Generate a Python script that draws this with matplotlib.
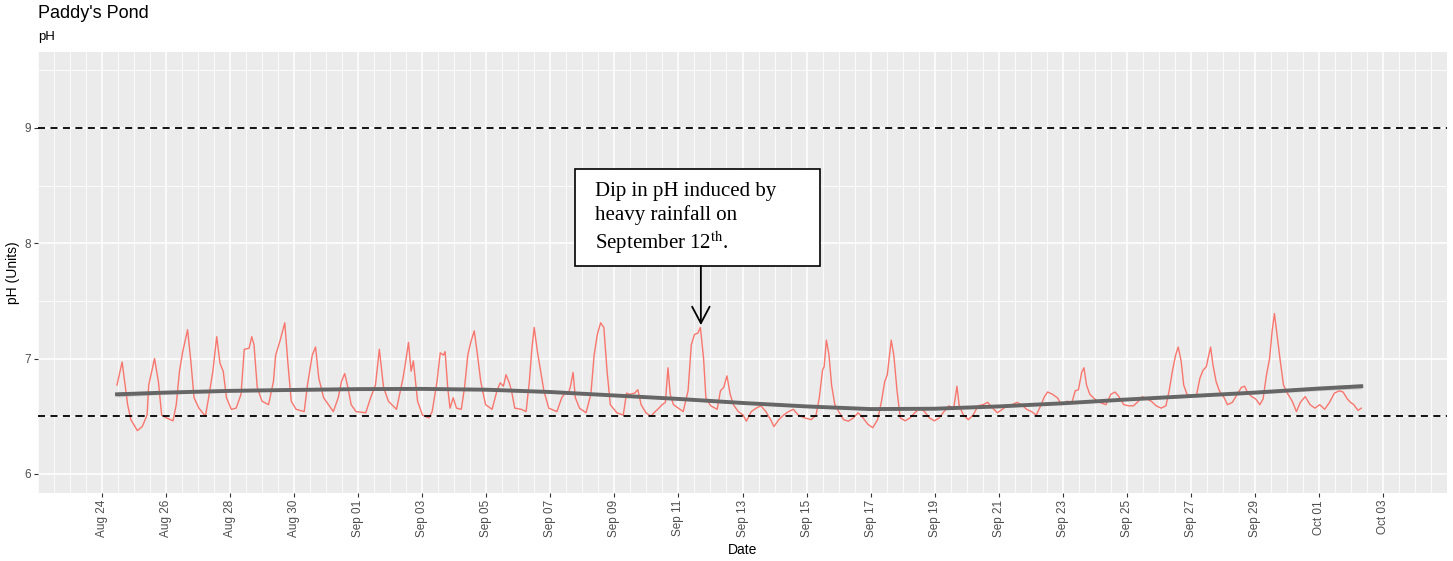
import numpy as np
import pandas as pd
import matplotlib
matplotlib.use('Agg')
import matplotlib.pyplot as plt
import matplotlib.dates as mdates
from matplotlib.patches import Rectangle

plt.rcParams['font.family'] = ['Liberation Sans', 'DejaVu Sans']
plt.rcParams['mathtext.fontset'] = 'stix'

# DATA (days since Aug 24 00:00, pH)
start = pd.Timestamp('2019-08-24')
red_days = [0.466, 0.627, 0.799, 0.900, 1.103, 1.255, 1.406, 1.457, 1.639, 1.760,
            1.862, 2.013, 2.216, 2.317, 2.418, 2.519, 2.671, 2.772, 2.873, 3.025,
            3.227, 3.328, 3.460, 3.581, 3.683, 3.784, 3.885, 4.036, 4.188, 4.340,
            4.441, 4.593, 4.674, 4.745, 4.846, 4.997, 5.200, 5.351, 5.422, 5.554,
            5.706, 5.807, 5.908, 6.060, 6.313, 6.414, 6.565, 6.667, 6.768, 6.920,
            7.223, 7.375, 7.476, 7.577, 7.678, 7.779, 7.931, 8.235, 8.386, 8.538,
            8.659, 8.791, 8.942, 9.195, 9.398, 9.469, 9.570, 9.651, 9.722, 9.853,
            10.005, 10.207, 10.308, 10.460, 10.561, 10.662, 10.713, 10.794, 10.865, 10.966,
            11.067, 11.219, 11.320, 11.421, 11.522, 11.623, 11.725, 11.826, 11.977, 12.180,
            12.332, 12.433, 12.534, 12.615, 12.716, 12.787, 12.888, 13.090, 13.242, 13.343,
            13.424, 13.495, 13.596, 13.697, 13.798, 13.950, 14.203, 14.355, 14.456, 14.557,
            14.628, 14.709, 14.780, 14.911, 15.113, 15.265, 15.366, 15.467, 15.569, 15.670,
            15.771, 15.872, 16.074, 16.277, 16.378, 16.479, 16.631, 16.732, 16.833, 16.985,
            17.137, 17.238, 17.389, 17.490, 17.592, 17.673, 17.743, 17.845, 17.996, 18.148,
            18.300, 18.401, 18.502, 18.603, 18.684, 18.785, 18.856, 19.008, 19.210, 19.311,
            19.413, 19.514, 19.615, 19.716, 19.868, 20.020, 20.122, 20.273, 20.425, 20.577,
            20.729, 20.880, 20.982, 21.133, 21.285, 21.437, 21.589, 21.740, 21.943, 22.145,
            22.297, 22.398, 22.499, 22.550, 22.620, 22.701, 22.782, 22.883, 23.005, 23.157,
            23.308, 23.460, 23.612, 23.764, 23.915, 24.067, 24.219, 24.340, 24.441, 24.522,
            24.644, 24.725, 24.826, 24.927, 25.079, 25.230, 25.382, 25.534, 25.686, 25.837,
            25.989, 26.141, 26.292, 26.444, 26.596, 26.697, 26.768, 26.899, 27.051, 27.203,
            27.354, 27.506, 27.658, 27.810, 27.961, 28.113, 28.265, 28.417, 28.568, 28.720,
            28.872, 29.024, 29.175, 29.327, 29.428, 29.529, 29.681, 29.833, 29.964, 30.136,
            30.288, 30.389, 30.491, 30.592, 30.663, 30.743, 30.845, 30.996, 31.148, 31.350,
            31.502, 31.634, 31.755, 31.907, 32.059, 32.210, 32.362, 32.484, 32.615, 32.767,
            32.918, 33.070, 33.222, 33.323, 33.424, 33.525, 33.606, 33.697, 33.778, 33.880,
            34.031, 34.183, 34.284, 34.385, 34.486, 34.537, 34.618, 34.689, 34.790, 34.891,
            35.043, 35.144, 35.296, 35.447, 35.579, 35.680, 35.781, 35.903, 36.024, 36.155,
            36.257, 36.358, 36.459, 36.540, 36.611, 36.692, 36.793, 36.894, 37.015, 37.167,
            37.299, 37.420, 37.572, 37.724, 37.875, 38.027, 38.179, 38.331, 38.482, 38.634,
            38.755, 38.887, 38.988, 39.089, 39.221, 39.322]
red_ph = [6.77, 6.97, 6.60, 6.47, 6.375, 6.41, 6.51, 6.77, 7.00, 6.80,
          6.51, 6.485, 6.46, 6.60, 6.89, 7.06, 7.25, 6.98, 6.66, 6.57,
          6.50, 6.66, 6.89, 7.19, 6.96, 6.89, 6.66, 6.56, 6.57, 6.69,
          7.08, 7.09, 7.19, 7.12, 6.75, 6.63, 6.60, 6.80, 7.03, 7.15,
          7.31, 6.95, 6.63, 6.56, 6.54, 6.77, 7.03, 7.10, 6.83, 6.66,
          6.54, 6.66, 6.80, 6.87, 6.75, 6.60, 6.54, 6.53, 6.66, 6.77,
          7.08, 6.75, 6.63, 6.56, 6.83, 6.95, 7.14, 6.89, 6.98, 6.63,
          6.51, 6.485, 6.54, 6.80, 7.05, 7.03, 7.06, 6.75, 6.57, 6.66,
          6.57, 6.56, 6.75, 7.03, 7.15, 7.24, 7.03, 6.80, 6.60, 6.56,
          6.72, 6.79, 6.76, 6.86, 6.79, 6.72, 6.57, 6.56, 6.54, 6.80,
          7.09, 7.27, 7.06, 6.89, 6.72, 6.57, 6.54, 6.66, 6.70, 6.69,
          6.76, 6.88, 6.66, 6.57, 6.53, 6.69, 7.03, 7.21, 7.31, 7.27,
          6.89, 6.60, 6.53, 6.51, 6.70, 6.69, 6.70, 6.73, 6.60, 6.53,
          6.50, 6.53, 6.57, 6.60, 6.62, 6.92, 6.69, 6.60, 6.57, 6.54,
          6.72, 7.12, 7.21, 7.22, 7.27, 7.00, 6.66, 6.59, 6.56, 6.72,
          6.75, 6.85, 6.69, 6.60, 6.54, 6.51, 6.457, 6.54, 6.57, 6.59,
          6.54, 6.47, 6.41, 6.47, 6.51, 6.54, 6.56, 6.51, 6.485, 6.47,
          6.51, 6.66, 6.90, 6.93, 7.16, 7.03, 6.77, 6.60, 6.54, 6.47,
          6.457, 6.485, 6.53, 6.485, 6.43, 6.40, 6.47, 6.63, 6.80, 6.86,
          7.16, 7.03, 6.72, 6.485, 6.46, 6.485, 6.53, 6.57, 6.54, 6.485,
          6.46, 6.485, 6.54, 6.59, 6.57, 6.76, 6.59, 6.51, 6.47, 6.51,
          6.59, 6.60, 6.62, 6.57, 6.53, 6.56, 6.59, 6.60, 6.62, 6.60,
          6.56, 6.54, 6.51, 6.60, 6.67, 6.71, 6.69, 6.66, 6.60, 6.63,
          6.62, 6.72, 6.73, 6.88, 6.92, 6.77, 6.69, 6.65, 6.62, 6.60,
          6.69, 6.71, 6.67, 6.60, 6.59, 6.59, 6.63, 6.67, 6.65, 6.63,
          6.59, 6.57, 6.59, 6.72, 6.89, 7.03, 7.10, 6.98, 6.77, 6.69,
          6.67, 6.69, 6.83, 6.90, 6.93, 7.00, 7.10, 6.95, 6.80, 6.72,
          6.66, 6.60, 6.62, 6.69, 6.75, 6.76, 6.70, 6.67, 6.65, 6.60,
          6.65, 6.85, 7.00, 7.24, 7.39, 7.21, 6.98, 6.77, 6.70, 6.63,
          6.54, 6.62, 6.67, 6.60, 6.57, 6.60, 6.56, 6.62, 6.70, 6.72,
          6.71, 6.65, 6.62, 6.60, 6.55, 6.57]

# smoothed trend and its band half-width
smooth_days = [0.466, 2, 4, 6, 8, 10, 12, 14, 16, 18, 20, 22, 24, 26, 28, 30,
               32, 34, 36, 38, 39.322]
smooth_ph = [6.69, 6.705, 6.72, 6.728, 6.735, 6.737, 6.73, 6.71, 6.68, 6.65,
             6.615, 6.585, 6.562, 6.565, 6.585, 6.612, 6.645, 6.675, 6.705, 6.74, 6.76]
smooth_se = [0.022, 0.014, 0.011, 0.010, 0.010, 0.010, 0.010, 0.010, 0.010, 0.010,
             0.010, 0.010, 0.010, 0.010, 0.010, 0.010, 0.010, 0.011, 0.013, 0.018, 0.022]

ref_lines = [6.5, 9]

red_t = start + pd.to_timedelta(red_days, unit='D')
smooth_t = start + pd.to_timedelta(smooth_days, unit='D')
sm = np.array(smooth_ph)
se = np.array(smooth_se)

# PLOT
fig = plt.figure(figsize=(14.53, 5.61), dpi=100)
ax = fig.add_axes([38/1453, 68/561, 1409/1453, 441/561])
ax.set_facecolor('#EBEBEB')
for s in ax.spines.values():
    s.set_visible(False)

ax.set_xlim(start + pd.Timedelta(days=-1.487), start + pd.Timedelta(days=41.27))
ax.set_ylim(5.834, 9.659)

major = pd.date_range(start, '2019-10-03', freq='2D')
minor = pd.date_range(start - pd.Timedelta(days=2), '2019-10-05', freq='12h')
ax.set_xticks(major)
ax.set_xticks(minor, minor=True)
ax.xaxis.set_major_formatter(mdates.DateFormatter('%b %d'))
ax.set_yticks([6, 7, 8, 9])
ax.set_yticks([6.5, 7.5, 8.5, 9.5], minor=True)
ax.grid(which='major', color='white', lw=1.1)
ax.grid(which='minor', color='white', lw=0.55)
ax.set_axisbelow(True)
ax.tick_params(which='major', length=3, width=0.8, color='#333333',
               labelcolor='#4D4D4D', labelsize=8.5, pad=2)
ax.tick_params(which='minor', length=0)
ax.tick_params(axis='x', labelrotation=90)

ax.plot(red_t, red_ph, color='#F8766D', lw=1.0)
ax.fill_between(smooth_t, sm - se, sm + se, color='#999999', alpha=0.4, lw=0)
ax.plot(smooth_t, sm, color='#666666', lw=2.8)
for h in ref_lines:
    ax.axhline(h, color='black', lw=1.3, ls=(0, (3.9, 3.0)))

ax.set_xlabel('Date', fontsize=10, labelpad=4)
ax.set_ylabel('pH (Units)', fontsize=10, labelpad=3)

fig.text(38/1453, 1 - 14/561, "Paddy's Pond", fontsize=13, va='center', ha='left')
fig.text(38/1453, 1 - 37/561, 'pH', fontsize=9.5, va='center', ha='left')

# ANNOTATION
d = lambda x: mdates.date2num(start + pd.Timedelta(days=x))
ax.add_patch(Rectangle((d(14.78), 7.803), d(22.43) - d(14.78), 8.644 - 7.803,
                       facecolor='white', edgecolor='black', lw=1.2, zorder=5))
ax.text(d(15.39), 8.53, 'Dip in pH induced by\nheavy rainfall on\nSeptember 12$^{\\rm th}$.',
        family='Liberation Serif', fontsize=15, va='top', ha='left',
        linespacing=1.25, zorder=6)
ax.annotate('', xy=(d(18.7), 7.29), xytext=(d(18.7), 7.803),
            arrowprops=dict(arrowstyle='->,head_length=0.85,head_width=0.45',
                            mutation_scale=14, color='black', lw=1.3,
                            shrinkA=0, shrinkB=0), zorder=6)

plt.savefig('out.png', dpi=100)
